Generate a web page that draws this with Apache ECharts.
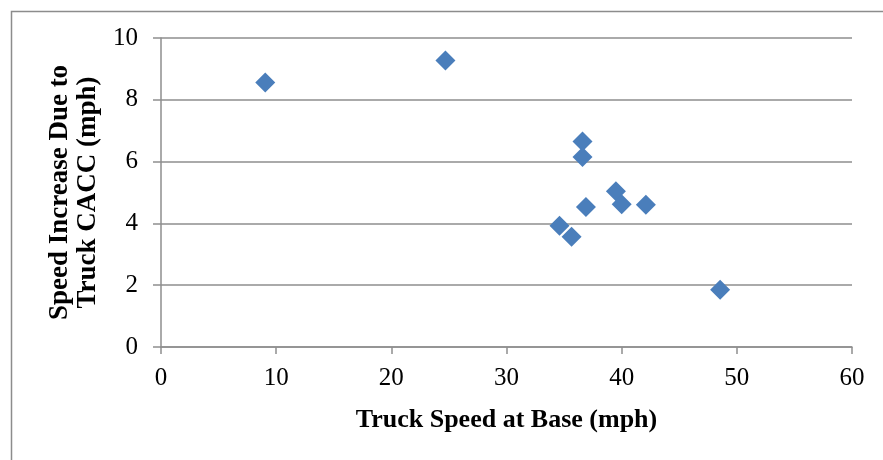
<!DOCTYPE html>
<html>
<head>
<meta charset="utf-8">
<title>Truck CACC speed increase</title>
<script src="https://cdn.jsdelivr.net/npm/echarts@6/dist/echarts.min.js"></script>
<style>
  html, body { margin: 0; padding: 0; background: #ffffff; }
  #chart { width: 883px; height: 460px; }
</style>
</head>
<body>
<div id="chart"></div>
<script>
// Truck speed at base (mph) and the speed gained with truck CACC (mph)
const baseSpeed = [9.05, 24.7, 36.6, 36.6, 39.5, 40.0, 42.1, 36.9, 34.6, 35.65, 48.55];
const speedIncrease = [8.56, 9.27, 6.65, 6.15, 5.04, 4.62, 4.60, 4.53, 3.92, 3.57, 1.85];

const xTicks = { min: 0, max: 60, interval: 10 };
const yTicks = { min: 0, max: 10, interval: 2 };

const xTitle = 'Truck Speed at Base (mph)';
const yTitle = 'Speed Increase Due to\nTruck CACC (mph)';

const points = baseSpeed.map((x, i) => [x, speedIncrease[i]]);

const serif = '"Liberation Serif", "Times New Roman", serif';
const gridGray = '#8e8e8e';

const chart = echarts.init(document.getElementById('chart'), null, { renderer: 'canvas' });

chart.setOption({
  backgroundColor: '#ffffff',
  animation: false,
  graphic: [{
    type: 'rect',
    left: 9, top: 9,
    shape: { width: 900, height: 520 },
    style: { fill: 'none', stroke: '#8c8c8c', lineWidth: 1.5 },
    silent: true
  }],
  grid: { left: 161, top: 38, right: 31, bottom: 113 },
  xAxis: {
    type: 'value',
    min: xTicks.min, max: xTicks.max, interval: xTicks.interval,
    name: xTitle,
    nameLocation: 'middle',
    nameGap: 60,
    nameTextStyle: { fontFamily: serif, fontWeight: 'bold', fontSize: 26, color: '#000' },
    axisLine: { show: true, lineStyle: { color: gridGray, width: 1.5 } },
    axisTick: { show: true, inside: false, length: 7, lineStyle: { color: gridGray, width: 1.5 } },
    axisLabel: { fontFamily: serif, fontSize: 25, color: '#000', margin: 19 },
    splitLine: { show: false }
  },
  yAxis: {
    type: 'value',
    min: yTicks.min, max: yTicks.max, interval: yTicks.interval,
    name: yTitle,
    nameLocation: 'middle',
    nameGap: 57,
    nameRotate: 90,
    nameTextStyle: { fontFamily: serif, fontWeight: 'bold', fontSize: 27, color: '#000', lineHeight: 28, align: 'center' },
    axisLine: { show: true, lineStyle: { color: gridGray, width: 1.5 } },
    axisTick: { show: true, inside: false, length: 8, lineStyle: { color: gridGray, width: 1.5 } },
    axisLabel: { fontFamily: serif, fontSize: 25, color: '#000', margin: 23 },
    splitLine: { show: true, lineStyle: { color: gridGray, width: 1.5 } }
  },
  series: [{
    type: 'scatter',
    data: points,
    symbol: 'diamond',
    symbolSize: 20,
    itemStyle: { color: '#4a7ebb', opacity: 1 }
  }]
});
</script>
</body>
</html>
